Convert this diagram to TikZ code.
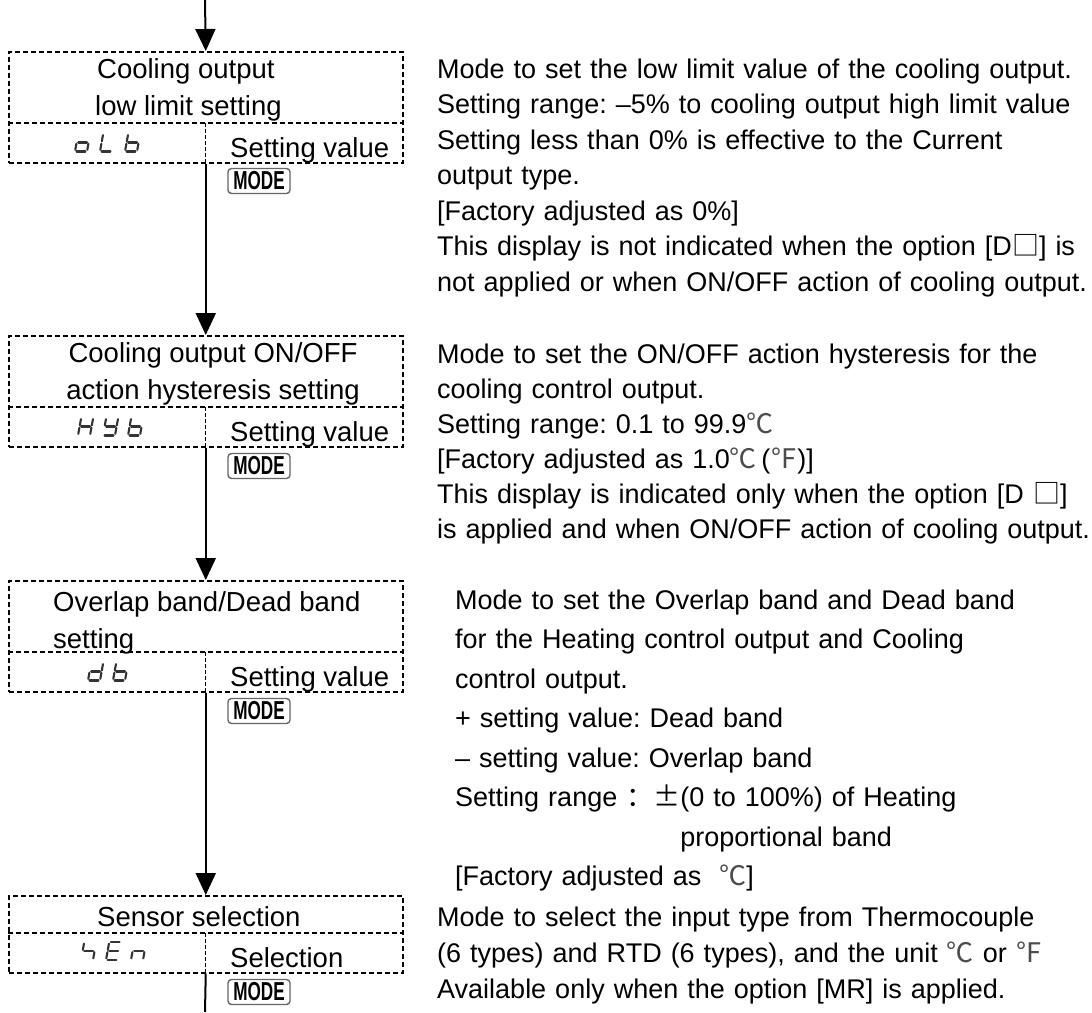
\documentclass[tikz,border=0pt]{standalone}
\usepackage{fontspec}
\setmainfont{Liberation Sans}
\newfontfamily\cjk{Noto Sans CJK SC}
\usepackage{graphicx}
\usetikzlibrary{arrows.meta}
\frenchspacing
% seven-segment pieces (local coords, y downwards, height 18, width 12)
\newcommand\sgA{\draw[seg] (1.6,-18)--(10.4,-18);}
\newcommand\sgB{\draw[seg] (12,-16.4)--(12,-10.2);}
\newcommand\sgC{\draw[seg] (12,-7.8)--(12,-1.6);}
\newcommand\sgD{\draw[seg] (1.6,0)--(10.4,0);}
\newcommand\sgE{\draw[seg] (0,-7.8)--(0,-1.6);}
\newcommand\sgF{\draw[seg] (0,-16.4)--(0,-10.2);}
\newcommand\sgG{\draw[seg] (1.6,-9)--(10.4,-9);}
\newcommand\glyph[3]{\begin{scope}[shift={(#1,#2)},xslant=0.18]#3\end{scope}}
\begin{document}
\begin{tikzpicture}[x=1pt,y=-1pt,
  box/.style={draw, dash pattern=on 5pt off 3pt, line width=1.5pt, minimum width=394pt, inner sep=0pt, anchor=north west},
  hdiv/.style={dash pattern=on 5pt off 3pt, line width=1.2pt},
  vdiv/.style={dash pattern=on 3.5pt off 2.5pt, line width=0.9pt},
  conn/.style={line width=2pt, -{Triangle[length=22pt,width=20pt]}},
  plain/.style={line width=2pt},
  seg/.style={line width=2.1pt, black!80, line cap=round},
  ttl/.style={font=\fontsize{27.5}{33}\selectfont, inner sep=0pt, anchor=base west},
  ttlc/.style={font=\fontsize{27.5}{33}\selectfont, inner sep=0pt, anchor=base},
  modebtn/.style={draw=black!60, fill=white, line width=1.4pt, rounded corners=3.5pt, minimum width=62pt, minimum height=25pt, inner sep=0pt, font=\fontsize{26}{26}\bfseries\selectfont},
  desc/.style={inner sep=0pt, anchor=north west, text width=700pt, align=left}
]
\useasboundingbox (0,0) rectangle (1092,1012);

% ---------- boxes ----------
\node[box, minimum height=111pt] (b1) at (8,51) {};
\draw[hdiv] (8,123) -- (402,123);
\draw[vdiv] (205,123) -- (205,162);
\node[ttl] (t1a) at (97,78) {Cooling output};
\node[ttl] (t1b) at (95,115) {low limit setting};
\node[ttl] (v1) at (230,157) {Setting value};
\glyph{75}{151.5}{\sgC\sgD\sgE\sgG}
\glyph{100}{151.5}{\sgD\sgE\sgF}
\glyph{125}{151.5}{\sgC\sgD\sgE\sgF\sgG}

\node[box, minimum height=111pt] (b2) at (8,335) {};
\draw[hdiv] (8,407) -- (402,407);
\draw[vdiv] (205,407) -- (205,446);
\node[ttlc] (t2a) at (213,362) {Cooling output ON/OFF};
\node[ttlc] (t2b) at (213,399) {action hysteresis setting};
\node[ttl] (v2) at (230,441) {Setting value};
\glyph{78}{435.5}{\sgB\sgC\sgE\sgF\sgG}
\glyph{103}{435.5}{\sgB\sgC\sgD\sgF\sgG}
\glyph{128}{435.5}{\sgC\sgD\sgE\sgF\sgG}

\node[box, minimum height=111pt] (b3) at (8,580) {};
\draw[hdiv] (8,652) -- (402,652);
\draw[vdiv] (205,652) -- (205,691);
\node[ttl] (t3a) at (53,611) {Overlap band/Dead band};
\node[ttl] (t3b) at (53,648) {setting};
\node[ttl] (v3) at (230,686) {Setting value};
\glyph{88}{680.5}{\sgB\sgC\sgD\sgE\sgG}
\glyph{113}{680.5}{\sgC\sgD\sgE\sgF\sgG}

\node[box, minimum height=77pt] (b4) at (8,895) {};
\draw[hdiv] (8,933) -- (402,933);
\draw[vdiv] (205,933) -- (205,972);
\node[ttl] (t4a) at (97,926) {Sensor selection};
\node[ttl] (v4) at (230,967) {Selection};
\glyph{81}{960}{\sgC\sgF\sgG}
\glyph{106}{960}{\sgA\sgD\sgE\sgF\sgG}
\glyph{131}{960}{\sgC\sgE\sgG}

% ---------- connectors ----------
\coordinate (start) at (205,0);
\coordinate (finish) at (205,1012);
\draw[conn] (start) -- (b1.north);
\draw[conn] (b1.south) -- (b2.north);
\draw[conn] (b2.south) -- (b3.north);
\draw[conn] (b3.south) -- (b4.north);
\draw[plain] (b4.south) -- (finish);

% ---------- MODE keys ----------
\node[modebtn] (m1) at (259,181) {\scalebox{0.66}[1]{MODE}};
\node[modebtn] (m2) at (259,466) {\scalebox{0.66}[1]{MODE}};
\node[modebtn] (m3) at (259,711) {\scalebox{0.66}[1]{MODE}};
\node[modebtn] (m4) at (259,992) {\scalebox{0.66}[1]{MODE}};

% ---------- descriptions ----------
\node[desc, font=\fontsize{27}{35.5}\selectfont] (d1) at (437,53.15) {\strut Mode to set the low limit value of the cooling output.\\
Setting range: –5\% to cooling output high limit value\\
Setting less than 0\% is effective to the Current\\
output type.\\
{[}Factory adjusted as 0\%{]}\\
This display is not indicated when the option {[}D{\cjk □}{]} is\\
not applied or when ON/OFF action of cooling output.};

\node[desc, font=\fontsize{27}{35}\selectfont] (d2) at (437,338.5) {\strut Mode to set the ON/OFF action hysteresis for the\\
cooling control output.\\
Setting range: 0.1 to 99.9{\cjk\color{black!70}℃}\\
{[}Factory adjusted as 1.0{\cjk\color{black!70}℃}\,({\cjk\color{black!70}℉}){]}\\
This display is indicated only when the option {[}D {\cjk □}{]}\\
is applied and when ON/OFF action of cooling output.};

\node[desc, font=\fontsize{27}{39.5}\selectfont] (d3) at (455,581.35) {\strut Mode to set the Overlap band and Dead band\\
for the Heating control output and Cooling\\
control output.\\
+ setting value: Dead band\\
– setting value: Overlap band\\
Setting range {\cjk ：±}(0 to 100\%) of Heating\\
\phantom{Setting range {\cjk ：±}}proportional band\\
{[}Factory adjusted as {\cjk\color{black!70} \ ℃}{]}};

\node[desc, font=\fontsize{27}{36}\selectfont] (d4) at (437,900.8) {\strut Mode to select the input type from Thermocouple\\
(6 types) and RTD (6 types), and the unit {\cjk\color{black!70}℃} or {\cjk\color{black!70}℉}\\
Available only when the option {[}MR{]} is applied.};
\end{tikzpicture}
\end{document}
